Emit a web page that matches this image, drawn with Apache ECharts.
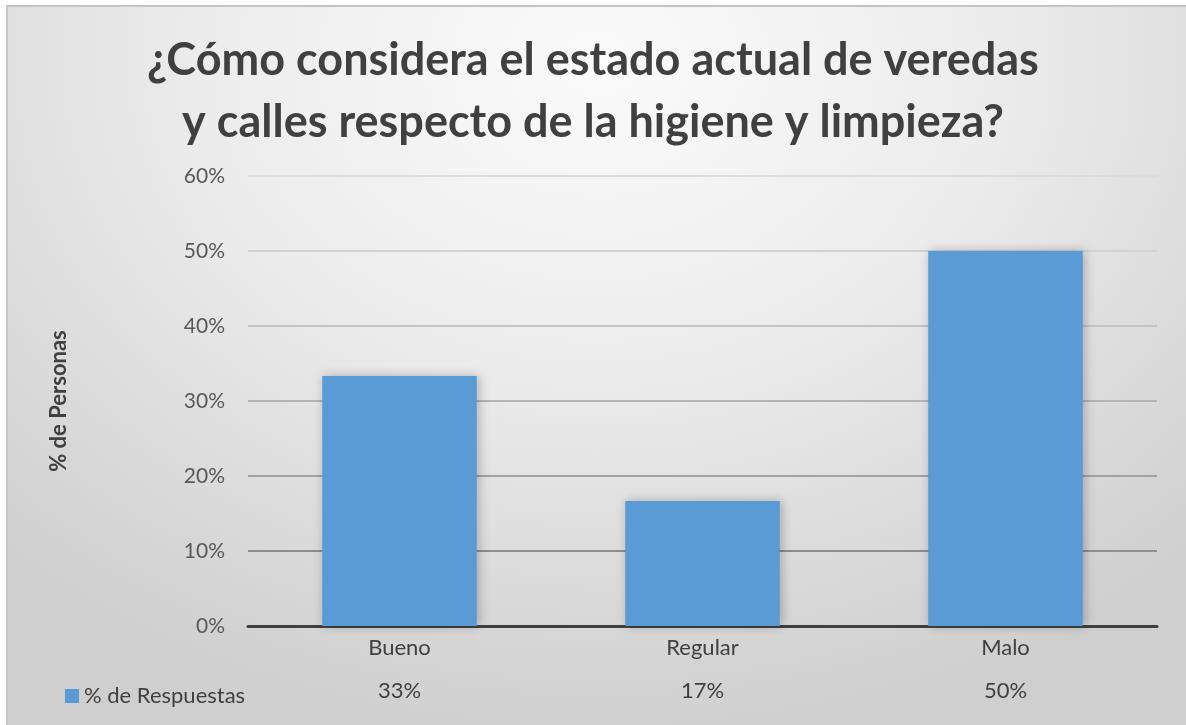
<!DOCTYPE html>
<html>
<head>
<meta charset="utf-8">
<script src="https://cdn.jsdelivr.net/npm/echarts@6/dist/echarts.min.js"></script>
<style>
	html, body { margin: 0; padding: 0; background: #ffffff; }
	#frame {
		position: absolute; left: 6px; top: 5px; width: 1180px; height: 720px;
		border-top: 2px solid #c4c4c4; border-left: 2px solid #c8c8c8;
		box-sizing: border-box;
		background: radial-gradient(ellipse 75% 95% at 50% 8%, #fbfbfb 0%, #ececec 45%, #d6d6d6 85%, #cfcfcf 100%);
	}
	#chart { position: absolute; left: 0; top: 0; width: 1186px; height: 725px; }
</style>
</head>
<body>
<div id="frame"></div>
<div id="chart"></div>
<script>
	// datos
	const categorias = ['Bueno', 'Regular', 'Malo']
	const respuestas = [33.33, 16.67, 50.0]
	const etiquetasTabla = ['33%', '17%', '50%']
	const nombreSerie = '% de Respuestas'

	let chart = echarts.init(document.getElementById('chart'))

	chart.setOption({
		backgroundColor: 'transparent',
		textStyle: { fontFamily: 'Lato' },
		title: {
			text: '¿Cómo considera el estado actual de veredas\ny calles respecto de la higiene y limpieza?',
			left: 'center',
			top: 24,
			textStyle: {
				fontFamily: 'Lato',
				fontSize: 45,
				fontWeight: 'bold',
				color: '#404040',
				lineHeight: 62
			}
		},
		legend: {
			data: [nombreSerie],
			left: 60,
			top: 680,
			icon: 'rect',
			itemWidth: 14,
			itemHeight: 14,
			itemGap: 6,
			textStyle: { fontSize: 22, color: '#404040' }
		},
		grid: {
			left: 248,
			right: 29,
			top: 176,
			bottom: 99
		},
		xAxis: [
			{
				type: 'category',
				data: categorias,
				axisLine: { lineStyle: { color: '#404040', width: 3 } },
				axisTick: { show: false },
				axisLabel: { fontSize: 22, color: '#404040', margin: 11 }
			},
			{
				type: 'category',
				data: etiquetasTabla,
				position: 'bottom',
				offset: 43,
				axisLine: { show: false },
				axisTick: { show: false },
				axisLabel: { fontSize: 22, color: '#404040', margin: 11 }
			}
		],
		yAxis: {
			type: 'value',
			min: 0,
			max: 60,
			interval: 10,
			name: '% de Personas',
			nameLocation: 'middle',
			nameGap: 178,
			nameTextStyle: { fontSize: 22, fontWeight: 'bold', color: '#404040' },
			axisLabel: {
				formatter: '{value}%',
				fontSize: 21,
				color: '#595959',
				margin: 23
			},
			splitLine: {
				lineStyle: {
					width: 2,
					color: ['#404040', '#8e8e8e', '#a2a2a2', '#b4b4b4', '#c4c4c4', '#d2d2d2', '#dcdcdc']
				}
			}
		},
		series: [
			{
				name: nombreSerie,
				type: 'bar',
				xAxisIndex: 0,
				barWidth: '51%',
				data: respuestas,
				itemStyle: {
					color: '#5b9bd5',
					shadowColor: 'rgba(0,0,0,0.25)',
					shadowBlur: 10,
					shadowOffsetX: 2,
					shadowOffsetY: 0
				}
			}
		]
	})
</script>
</body>
</html>
